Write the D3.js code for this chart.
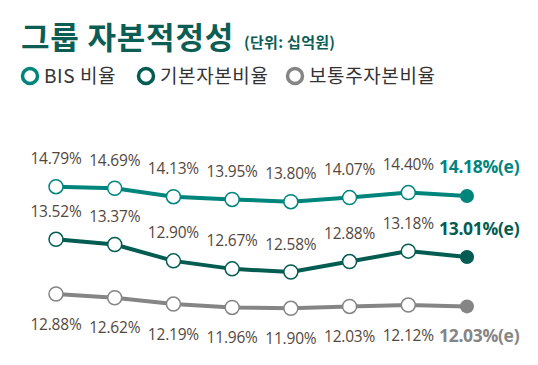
<!DOCTYPE html>
<html>
<head>
<meta charset="utf-8">
<script src="https://cdn.jsdelivr.net/npm/d3@7"></script>
<style>
  body { margin: 0; background: #fff; }
  svg { display: block; }
</style>
</head>
<body>
<svg id="chart"></svg>
<script>
'use strict';
const PERIODS = [0, 1, 2, 3, 4, 5, 6, 7];
const BIS_RATIO = [14.79, 14.69, 14.13, 13.95, 13.80, 14.07, 14.40, 14.18];
const TIER1_RATIO = [13.52, 13.37, 12.90, 12.67, 12.58, 12.88, 13.18, 13.01];
const CET1_RATIO = [12.88, 12.62, 12.19, 11.96, 11.90, 12.03, 12.12, 12.03];
const SERIES_NAMES = ['BIS 비율', '기본자본비율', '보통주자본비율'];

const WIDTH = 538, HEIGHT = 365;
const KR_FONT = '"Noto Sans CJK KR", "Noto Sans", sans-serif';
const NUM_FONT = '"Open Sans", "Noto Sans", sans-serif';
const LABEL_COLOR = '#54483e';

let chart = d3.select('#chart').attr('width', WIDTH).attr('height', HEIGHT);

// title
chart.append('text')
  .attr('x', 21).attr('y', 49)
  .attr('font-family', KR_FONT).attr('font-weight', 700).attr('font-size', 31)
  .attr('letter-spacing', 0.8)
  .attr('fill', '#0c5e55')
  .text('그룹 자본적정성');
chart.append('text')
  .attr('x', 244).attr('y', 48)
  .attr('font-family', KR_FONT).attr('font-weight', 700).attr('font-size', 15)
  .attr('letter-spacing', 0.3)
  .attr('fill', '#0c5e55')
  .text('(단위: 십억원)');

let xScale = d3.scalePoint().domain(PERIODS).range([56, 467]);

// each line sits in its own band, as in the original infographic
let series = [
  { name: SERIES_NAMES[0], values: BIS_RATIO, color: '#00857d',
    y: d3.scaleLinear().domain([13.80, 14.79]).range([201.7, 186.7]), above: true },
  { name: SERIES_NAMES[1], values: TIER1_RATIO, color: '#035c51',
    y: d3.scaleLinear().domain([12.58, 13.52]).range([272, 239.3]), above: true },
  { name: SERIES_NAMES[2], values: CET1_RATIO, color: '#858585',
    y: d3.scaleLinear().domain([11.90, 12.88]).range([308.3, 294]), above: false }
];

// legend
let legendX = [30, 146, 295];
let legend = chart.selectAll('g.legend').data(series).enter()
  .append('g').attr('class', 'legend')
  .attr('transform', function(d, i) { return 'translate(' + legendX[i] + ',76)' });
legend.append('circle')
  .attr('r', 7.5)
  .attr('fill', 'none')
  .attr('stroke', function(d) { return d.color })
  .attr('stroke-width', 3.5);
legend.append('text')
  .attr('x', 14).attr('y', 7)
  .attr('font-family', KR_FONT).attr('font-size', 19)
  .attr('letter-spacing', 0.6)
  .attr('fill', '#333')
  .text(function(d) { return d.name });

let line = chart.selectAll('g.series').data(series).enter()
  .append('g').attr('class', 'series');

line.append('path')
  .attr('fill', 'none')
  .attr('stroke', function(d) { return d.color })
  .attr('stroke-width', 4)
  .attr('d', function(d) {
    return d3.line()
      .x(function(v, i) { return xScale(i) })
      .y(function(v) { return d.y(v) })(d.values);
  });

line.each(function(s) {
  let g = d3.select(this);
  let last = s.values.length - 1;
  g.selectAll('circle').data(s.values).enter()
    .append('circle')
    .attr('cx', function(v, i) { return xScale(i) })
    .attr('cy', function(v) { return s.y(v) })
    .attr('r', 7)
    .attr('fill', function(v, i) { return i == last ? s.color : '#fff' })
    .attr('stroke', s.color)
    .attr('stroke-width', function(v, i) { return i == last ? 0 : 1.5 });

  g.selectAll('text').data(s.values).enter()
    .append('text')
    .attr('x', function(v, i) { return i == last ? xScale(i) - 28 : xScale(i) })
    .attr('y', function(v) { return s.above ? s.y(v) - 22.5 : s.y(v) + 35.5 })
    .attr('text-anchor', function(v, i) { return i == last ? 'start' : 'middle' })
    .attr('font-family', NUM_FONT)
    .attr('font-size', function(v, i) { return i == last ? 17.5 : 15.5 })
    .attr('font-weight', function(v, i) { return i == last ? 700 : 400 })
    .attr('fill', function(v, i) { return i == last ? s.color : LABEL_COLOR })
    .attr('letter-spacing', function(v, i) { return i == last ? -0.3 : -0.2 })
    .text(function(v, i) { return v.toFixed(2) + '%' + (i == last ? '(e)' : '') });
});
</script>
</body>
</html>
